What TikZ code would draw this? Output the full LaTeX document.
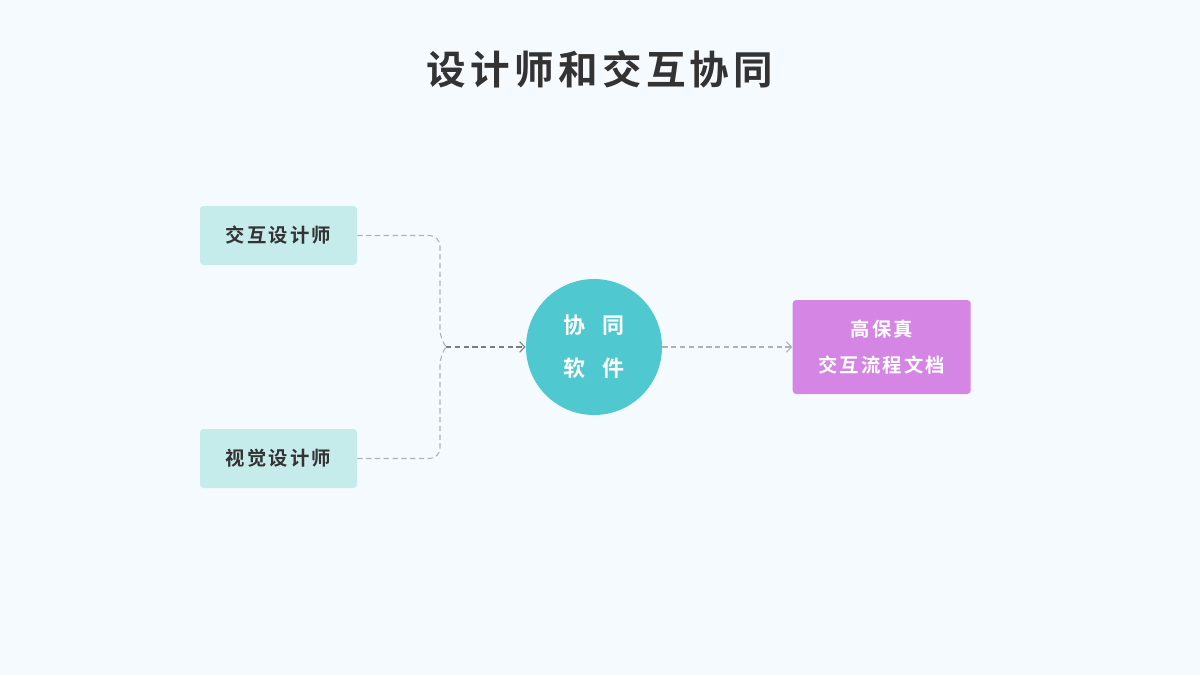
\documentclass[tikz,border=0pt]{standalone}
\usepackage{fontspec}
\setmainfont{Noto Sans CJK SC}
\newfontfamily\cjkbold[LetterSpace=11]{Noto Sans CJK SC Bold}
\usetikzlibrary{arrows.meta,positioning}
\definecolor{bgc}{HTML}{F5FAFE}
\definecolor{boxc}{HTML}{C6EBEB}
\definecolor{hubc}{HTML}{4FC9CF}
\definecolor{docc}{HTML}{D585E3}
\definecolor{inkc}{HTML}{333333}
\definecolor{linec}{HTML}{A9B4B4}
\begin{document}
\begin{tikzpicture}[
        role/.style={fill=boxc, rounded corners=2pt, minimum width=3.14cm, minimum height=1.18cm, font=\cjkbold\fontsize{11}{13}\selectfont, text=inkc},
        hub/.style={circle, fill=hubc, minimum size=2.72cm, align=center, text=white, font=\cjkbold\fontsize{12.5}{24.5}\selectfont},
        doc/.style={fill=docc, rounded corners=2pt, minimum width=3.56cm, minimum height=1.88cm, align=center, text=white, font=\cjkbold\fontsize{11}{20.5}\selectfont},
        link/.style={draw=linec, line width=0.6pt, dash pattern=on 3pt off 2pt, rounded corners=6pt},
        feed/.style={draw=linec!70!black, line width=0.6pt, dash pattern=on 3pt off 2pt, -{Straight Barb[length=3pt,width=6pt]}}
      ]
      \fill[bgc] (0,0) rectangle (24,-13.5);
      \useasboundingbox (0,0) rectangle (24,-13.5);
      \node[font=\cjkbold\fontsize{22.5}{26}\selectfont, text=inkc] (title) at (12,-1.38) {设计师和交互协同};
      \node[role] (ia) at (5.57,-4.71) {交互设计师};
      \node[role] (vd) at (5.57,-9.17) {视觉设计师};
      \node[hub] (sw) at (11.88,-6.94) {\raisebox{-2pt}{协\hspace{0.75em}同}\\\raisebox{-2pt}{软\hspace{0.75em}件}};
      \node[doc, right=2.6cm of sw] (hf) {\raisebox{-2pt}{高保真}\\\raisebox{-2pt}{交互流程文档}};
      \coordinate (mid) at (8.92,-6.94);
      % bracket into the hub
      \draw[link] (ia.east) -| (8.8,-6.8) -- (mid);
      \draw[link] (vd.east) -| (8.8,-7.08) -- (mid);
      \draw[feed] (mid) -- (sw);
      \draw[feed, draw=linec] (sw) -- (hf);
    \end{tikzpicture}
\end{document}
